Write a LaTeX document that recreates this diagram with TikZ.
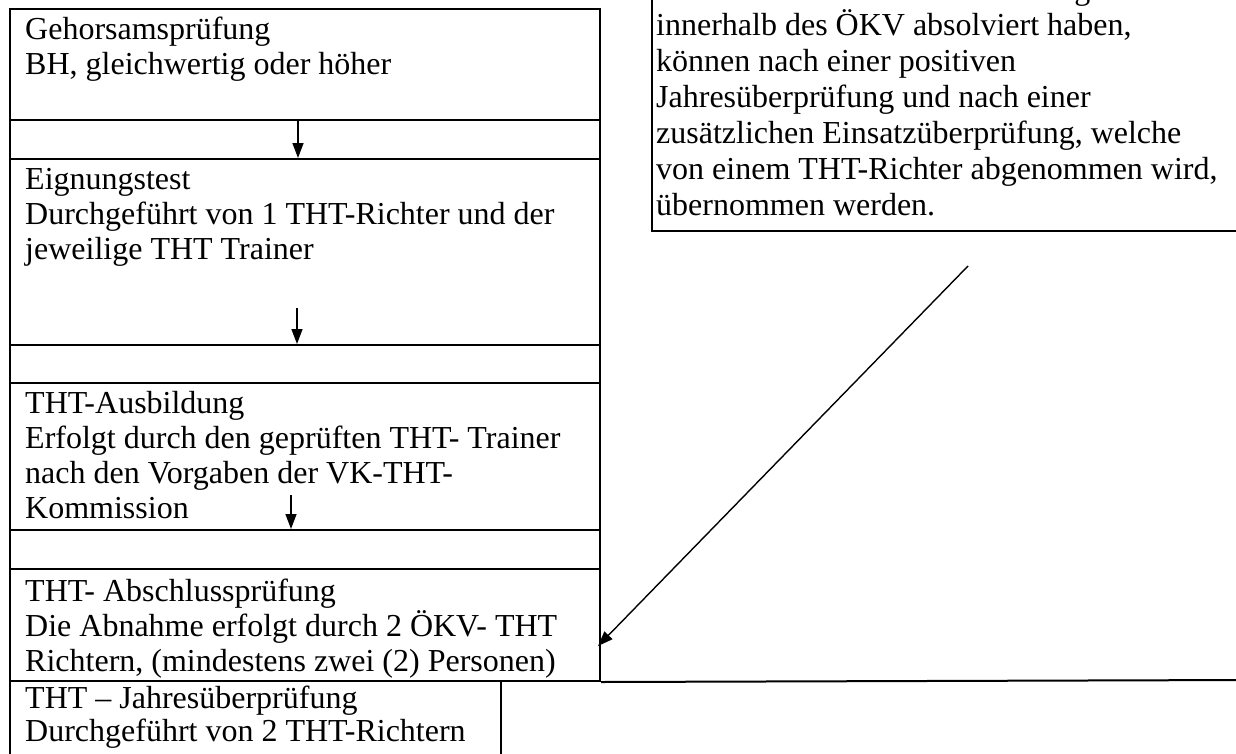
\documentclass[tikz,border=0pt]{standalone}
\usepackage{fontspec}
\setmainfont{Liberation Serif}
\usetikzlibrary{arrows.meta}
\begin{document}
\begin{tikzpicture}[x=1pt,y=-1pt,
  cell/.style={draw,line width=2pt,inner sep=0pt,anchor=north west},
  txt/.style={anchor=base west,inner sep=0pt,font=\fontsize{32}{35}\selectfont},
  arr/.style={line width=1.4pt,-{Triangle[length=15pt,width=11pt]}}]
\useasboundingbox (0,0) rectangle (1236,753);
\clip (0,0) rectangle (1236,753);
% left column cells
\node[cell,minimum width=590pt,minimum height=111pt] (b1) at (9,8) {};
\node[cell,minimum width=590pt,minimum height=39pt] (g1) at (9,119) {};
\node[cell,minimum width=590pt,minimum height=186pt] (b2) at (9,158) {};
\node[cell,minimum width=590pt,minimum height=38pt] (g2) at (9,344) {};
\node[cell,minimum width=590pt,minimum height=147pt] (b3) at (9,382) {};
\node[cell,minimum width=590pt,minimum height=39pt] (g3) at (9,529) {};
\node[cell,minimum width=590pt,minimum height=112pt] (b4) at (9,568) {};
\node[cell,minimum width=491pt,minimum height=120pt] (b5) at (9,680) {};
% right box
\node[cell,minimum width=620pt,minimum height=270pt] (r) at (651,-40) {};
\coordinate (lineend) at (1245,680);
\draw[line width=2pt] (b4.south east) -- (lineend);
% texts
\node[txt] (t1a) at (25,39) {Gehorsamsprüfung};
\node[txt] (t1b) at (25,74) {BH, gleichwertig oder höher};
\node[txt] (t2a) at (25,189) {Eignungstest};
\node[txt] (t2b) at (25,224) {Durchgeführt von 1 THT-Richter und der};
\node[txt] (t2c) at (25,259) {jeweilige THT Trainer};
\node[txt] (t3a) at (25,413) {THT-Ausbildung};
\node[txt] (t3b) at (25,448) {Erfolgt durch den geprüften THT- Trainer};
\node[txt] (t3c) at (25,483) {nach den Vorgaben der VK-THT-};
\node[txt] (t3d) at (25,518) {Kommission};
\node[txt] (t4a) at (25,601) {THT- Abschlussprüfung};
\node[txt] (t4b) at (25,636) {Die Abnahme erfolgt durch 2 ÖKV- THT};
\node[txt] (t4c) at (25,671) {Richtern, (mindestens zwei (2) Personen)};
\node[txt] (t5a) at (25,708) {THT – Jahresüberprüfung};
\node[txt] (t5b) at (25,741) {Durchgeführt von 2 THT-Richtern};
\node[txt] (r1) at (656,-1) {THT – Teams welche die Prüfung nicht};
\node[txt] (r2) at (656,35) {innerhalb des ÖKV absolviert haben,};
\node[txt] (r3) at (656,71) {können nach einer positiven};
\node[txt] (r4) at (656,107) {Jahresüberprüfung und nach einer};
\node[txt] (r5) at (656,143) {zusätzlichen Einsatzüberprüfung, welche};
\node[txt] (r6) at (656,179) {von einem THT-Richter abgenommen wird,};
\node[txt] (r7) at (656,215) {übernommen werden.};
% arrows
\coordinate (a1s) at (298,119);
\coordinate (a2s) at (297,308);
\coordinate (a3s) at (291,495);
\coordinate (a4s) at (968,266);
\coordinate (a4e) at (598,646);
\draw[arr] (a1s) -- (a1s |- b2.north);
\draw[arr] (a2s) -- (a2s |- g2.north);
\draw[arr] (a3s) -- (a3s |- g3.north);
\draw[arr] (a4s) -- (a4e);
\end{tikzpicture}
\end{document}
